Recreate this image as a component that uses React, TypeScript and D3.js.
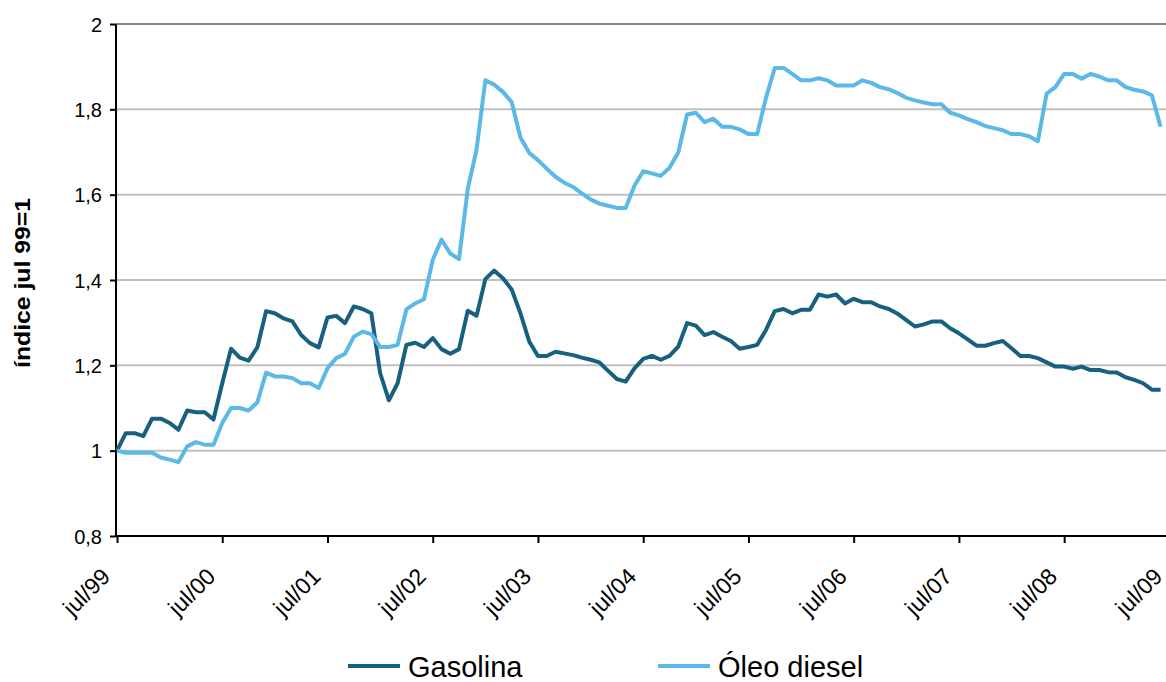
import React, { useEffect, useRef } from 'react';
import * as d3 from 'd3';

// monthly index, jul/99 = 1 (jul/99 .. jun/09)
const gasolina = [
  1.000, 1.041, 1.041, 1.034, 1.075, 1.075, 1.065, 1.049, 1.094, 1.090, 1.090, 1.073,
  1.158, 1.239, 1.218, 1.211, 1.242, 1.327, 1.322, 1.310, 1.303, 1.271, 1.252, 1.242,
  1.312, 1.316, 1.299, 1.338, 1.332, 1.322, 1.182, 1.118, 1.158, 1.248, 1.253, 1.243,
  1.264, 1.238, 1.227, 1.238, 1.328, 1.316, 1.402, 1.422, 1.404, 1.378, 1.322, 1.256,
  1.222, 1.222, 1.232, 1.228, 1.224, 1.218, 1.213, 1.207, 1.187, 1.168, 1.162, 1.193,
  1.215, 1.222, 1.213, 1.222, 1.244, 1.299, 1.293, 1.271, 1.278, 1.267, 1.257, 1.239,
  1.243, 1.248, 1.283, 1.327, 1.332, 1.322, 1.330, 1.330, 1.366, 1.361, 1.366, 1.345,
  1.356, 1.348, 1.348, 1.338, 1.332, 1.321, 1.306, 1.291, 1.296, 1.303, 1.303, 1.287,
  1.275, 1.261, 1.246, 1.246, 1.252, 1.257, 1.240, 1.222, 1.222, 1.217, 1.207, 1.197,
  1.197, 1.192, 1.197, 1.189, 1.189, 1.184, 1.183, 1.172, 1.166, 1.158, 1.143, 1.143,
];

const diesel = [
  1.000, 0.995, 0.995, 0.995, 0.995, 0.984, 0.979, 0.973, 1.010, 1.020, 1.014, 1.014,
  1.065, 1.100, 1.100, 1.094, 1.113, 1.183, 1.174, 1.174, 1.170, 1.158, 1.158, 1.147,
  1.193, 1.217, 1.227, 1.267, 1.279, 1.273, 1.243, 1.243, 1.248, 1.331, 1.345, 1.355,
  1.447, 1.495, 1.462, 1.449, 1.614, 1.706, 1.868, 1.858, 1.841, 1.817, 1.734, 1.698,
  1.681, 1.661, 1.642, 1.628, 1.618, 1.603, 1.589, 1.579, 1.574, 1.569, 1.569, 1.621,
  1.655, 1.650, 1.644, 1.663, 1.699, 1.788, 1.792, 1.770, 1.778, 1.759, 1.759, 1.753,
  1.742, 1.742, 1.827, 1.897, 1.897, 1.883, 1.868, 1.868, 1.873, 1.868, 1.856, 1.856,
  1.856, 1.868, 1.862, 1.852, 1.847, 1.838, 1.827, 1.821, 1.816, 1.812, 1.812, 1.792,
  1.786, 1.777, 1.770, 1.761, 1.756, 1.751, 1.742, 1.742, 1.737, 1.725, 1.837, 1.852,
  1.883, 1.883, 1.872, 1.883, 1.877, 1.868, 1.868, 1.852, 1.846, 1.842, 1.833, 1.759,
];

const xTickLabels = ['jul/99', 'jul/00', 'jul/01', 'jul/02', 'jul/03', 'jul/04', 'jul/05', 'jul/06', 'jul/07', 'jul/08', 'jul/09'];
const yTicks = [0.8, 1, 1.2, 1.4, 1.6, 1.8, 2];

const series = [
  { name: 'Gasolina', values: gasolina, color: '#18607f' },
  { name: 'Óleo diesel', values: diesel, color: '#5cb8e6' },
];

const FONT = '"Liberation Sans", Arial, sans-serif';

const App = () => {
  const svgRef = useRef<SVGSVGElement | null>(null);

  useEffect(() => {
    const width = 1166;
    const height = 682;
    const left = 116;
    const top = 24;
    const bottom = 536;
    const monthPx = 8.77;

    const svg = d3.select(svgRef.current);
    svg.selectAll('*').remove();

    const x = d3.scaleLinear().domain([0, 120]).range([left + 1, left + 1 + 120 * monthPx]);
    const y = d3.scaleLinear().domain([0.8, 2]).range([bottom, top]);

    // gridlines
    svg.append('g')
      .selectAll('line')
      .data(yTicks.filter(d => d > 0.8))
      .enter()
      .append('line')
      .attr('x1', left)
      .attr('x2', width)
      .attr('y1', d => y(d))
      .attr('y2', d => y(d))
      .attr('stroke', d => (d === 2 ? '#8a8a8a' : '#c0c0c0'))
      .attr('stroke-width', 2);

    // y axis
    const yAxis = svg.append('g')
      .attr('transform', `translate(${left},0)`)
      .call(d3.axisLeft(y).tickValues(yTicks).tickSize(6).tickFormat(d => String(d).replace('.', ',')));
    yAxis.select('.domain').attr('stroke', '#000').attr('stroke-width', 2).attr('d', `M0,${top}V${bottom}`);
    yAxis.selectAll('.tick line').attr('stroke', '#000').attr('stroke-width', 2);
    yAxis.selectAll('.tick text')
      .attr('x', -14)
      .attr('dy', '0.36em')
      .style('font-family', FONT)
      .style('font-size', '20px')
      .attr('fill', '#000');

    // x axis
    const xAxis = svg.append('g')
      .attr('transform', `translate(0,${bottom})`)
      .call(d3.axisBottom(x).tickValues(d3.range(0, 121, 12)).tickSize(7).tickFormat((d, i) => xTickLabels[i]));
    xAxis.select('.domain').attr('stroke', '#000').attr('stroke-width', 2).attr('d', `M${left},0H${width}`);
    xAxis.selectAll('.tick line').attr('stroke', '#000').attr('stroke-width', 2);
    xAxis.selectAll('.tick text')
      .attr('y', 0)
      .attr('dy', 0)
      .attr('text-anchor', 'end')
      .attr('transform', 'translate(-6,42) rotate(-45)')
      .style('font-family', FONT)
      .style('font-size', '23px')
      .attr('fill', '#000');

    // lines
    const line = d3.line<number>()
      .x((d, i) => x(i))
      .y(d => y(d));

    svg.append('g')
      .selectAll('path')
      .data(series)
      .enter()
      .append('path')
      .attr('d', d => line(d.values))
      .attr('fill', 'none')
      .attr('stroke', d => d.color)
      .attr('stroke-width', 4)
      .attr('stroke-linejoin', 'round');

    // y title
    svg.append('text')
      .attr('transform', `translate(30,${(top + bottom) / 2 + 3}) rotate(-90)`)
      .attr('text-anchor', 'middle')
      .attr('textLength', 170)
      .attr('lengthAdjust', 'spacingAndGlyphs')
      .style('font-family', FONT)
      .style('font-weight', 'bold')
      .style('font-size', '22px')
      .text('índice jul 99=1');

    // legend
    const legendX = [348, 658];
    const legend = svg.append('g')
      .selectAll('g')
      .data(series)
      .enter()
      .append('g')
      .attr('transform', (d, i) => `translate(${legendX[i]},666)`);
    legend.append('line')
      .attr('x1', 0)
      .attr('x2', 52)
      .attr('stroke', d => d.color)
      .attr('stroke-width', 4);
    legend.append('text')
      .attr('x', 60)
      .attr('y', 11)
      .style('font-family', FONT)
      .style('font-size', '29px')
      .text(d => d.name);

    svg.attr('width', width).attr('height', height);
  }, []);

  return (
    <svg
      ref={svgRef}
      width={1166}
      height={682}
      style={{ position: 'absolute', left: 0, top: 0, background: '#fff' }}
    />
  );
};

export default App;
